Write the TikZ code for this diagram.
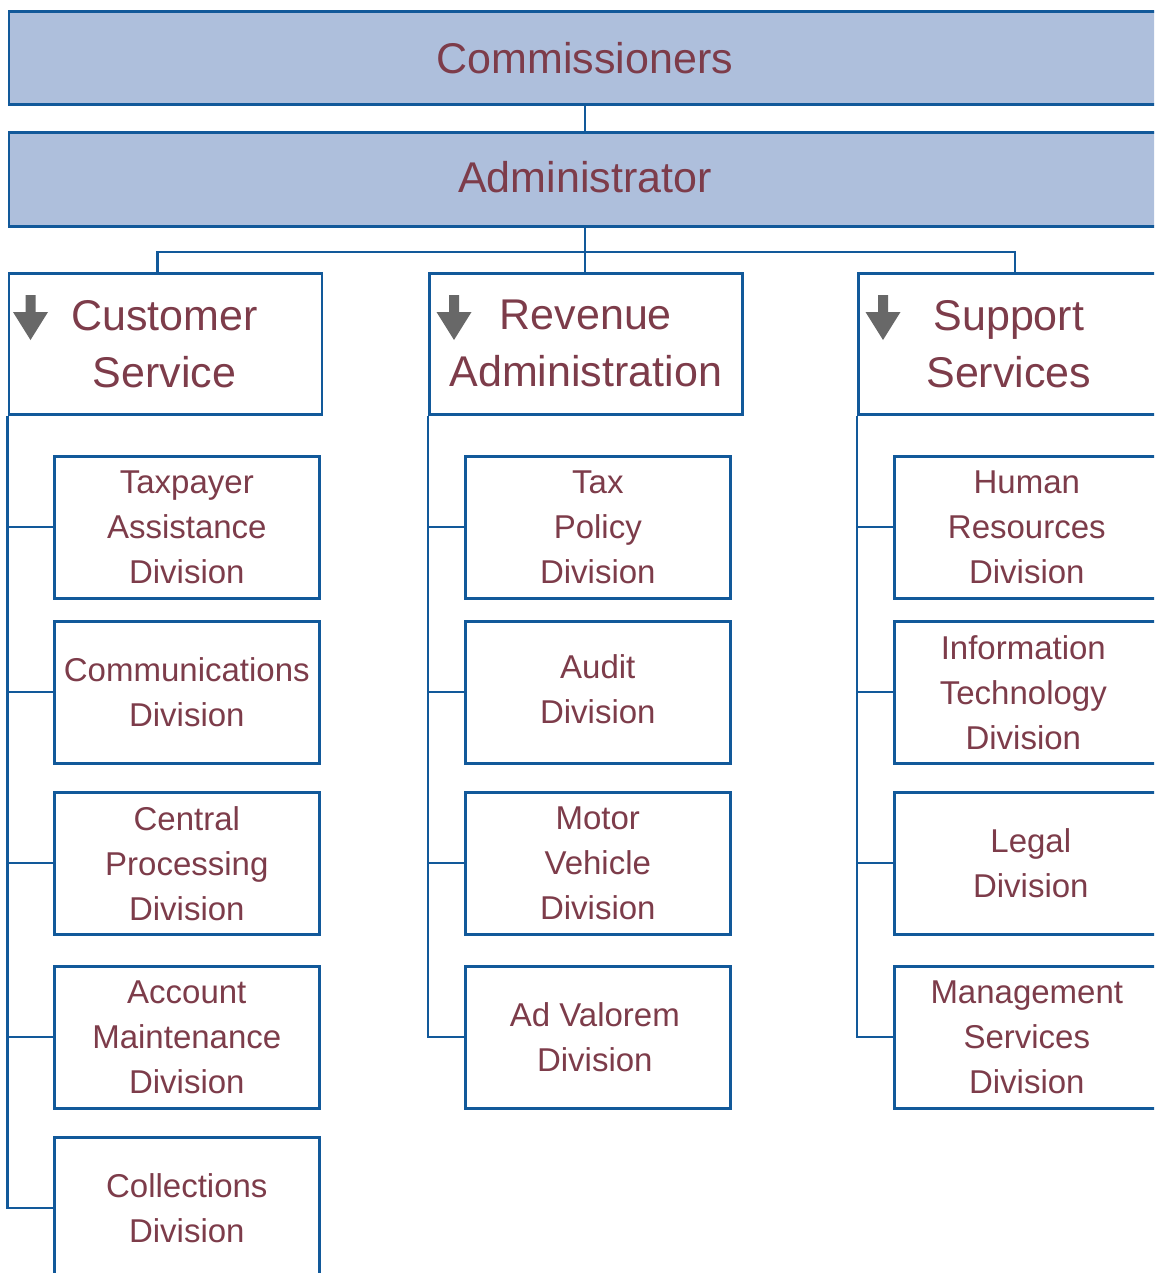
\documentclass[tikz,border=0pt]{standalone}
\usepackage{fontspec}
\setmainfont{Liberation Sans}
\usetikzlibrary{calc}
\definecolor{bord}{HTML}{12599A}
\definecolor{topfill}{HTML}{AEBFDC}
\definecolor{txt}{HTML}{7D3C4A}
\definecolor{arrowgray}{HTML}{686868}
\begin{document}
\begin{tikzpicture}[x=1pt,y=-1pt,
  topbox/.style={draw=bord, line width=2.6pt, fill=topfill, text=txt,
    font=\fontsize{43}{57}\selectfont, minimum width=1152, anchor=north west, inner sep=0pt},
  headbox/.style={draw=bord, line width=2.6pt, fill=white, text=txt,
    font=\fontsize{43}{57}\selectfont, align=center, minimum width=313, minimum height=141,
    anchor=north west, inner sep=2pt},
  divbox/.style={draw=bord, line width=2.6pt, fill=white, text=txt,
    font=\fontsize{33}{45}\selectfont, align=center, minimum width=265, minimum height=142,
    anchor=north west, inner sep=2pt},
  conn/.style={draw=bord, line width=2.3pt},
  downarrow/.style={fill=arrowgray}]
\useasboundingbox (0,0) rectangle (1154,1273);
\clip (0,0) rectangle (1154,1273);

% top boxes
\node[topbox, minimum height=93] (comm) at (7.5,10) {Commissioners};
\node[topbox, minimum height=94] (admin) at (7.5,131) {\raisebox{4pt}{Administrator}};

% header boxes
\node[headbox] (cs) at (7.5,272) {\hspace*{-2pt}Customer\\\hspace*{-2pt}Service};
\node[headbox] (ra) at (428,272) {Revenue\\Administration};
\node[headbox, label={[text=txt, font=\fontsize{43}{57}\selectfont, align=center, xshift=-6pt]center:Support\\Services}] (ss) at (857,272) {};

% arrows in headers
\foreach \b/\c in {cs/23, ra/26, ss/26}{
  \fill[downarrow, shift={(\b.north west)}]
    (\c-5,23) -- (\c+5,23) -- (\c+5,40) -- (\c+17.5,40) -- (\c,68)
    -- (\c-17.5,40) -- (\c-5,40) -- cycle;
}

% division boxes: customer service
\node[divbox] (c1) at (53,455) {Taxpayer\\Assistance\\Division};
\node[divbox] (c2) at (53,620) {Communications\\Division};
\node[divbox] (c3) at (53,791) {Central\\Processing\\Division};
\node[divbox] (c4) at (53,965) {Account\\Maintenance\\Division};
\node[divbox] (c5) at (53,1136) {Collections\\Division};

% revenue administration
\node[divbox] (r1) at (464,455) {Tax\\Policy\\Division};
\node[divbox] (r2) at (464,620) {\raisebox{3pt}{\begin{tabular}{@{}c@{}}Audit\\Division\end{tabular}}};
\node[divbox] (r3) at (464,791) {Motor\\Vehicle\\Division};
\node[divbox] (r4) at (464,965) {\hspace*{-6pt}Ad Valorem\\\hspace*{-6pt}Division};

% support services
\node[divbox] (s1) at (893,455) {Human\\Resources\\Division};
\node[divbox] (s2) at (893,620) {\hspace*{-7pt}Information\\\hspace*{-7pt}Technology\\\hspace*{-7pt}Division};
\node[divbox] (s3) at (893,791) {\hspace*{8pt}Legal\\\hspace*{8pt}Division};
\node[divbox] (s4) at (893,965) {Management\\Services\\Division};

% connectors
\draw[conn] (comm.south) -- (comm.south |- admin.north);
\draw[conn] (admin.south) -- (admin.south |- ra.north);
\draw[conn] ($(cs.north west)+(150,0)$) -- ++(0,-20) -| (ss.north);

\draw[conn] (cs.south west) |- (c5.west);
\foreach \d in {c1,c2,c3,c4}{ \draw[conn] (cs.south west |- \d.west) -- (\d.west); }
\draw[conn] (ra.south west) |- (r4.west);
\foreach \d in {r1,r2,r3}{ \draw[conn] (ra.south west |- \d.west) -- (\d.west); }
\draw[conn] (ss.south west) |- (s4.west);
\foreach \d in {s1,s2,s3}{ \draw[conn] (ss.south west |- \d.west) -- (\d.west); }
\end{tikzpicture}
\end{document}
